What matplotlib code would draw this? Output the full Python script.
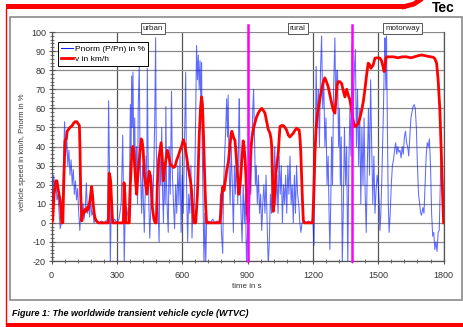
import matplotlib.pyplot as plt
from matplotlib.ticker import MultipleLocator
from matplotlib.patches import Rectangle
from matplotlib.lines import Line2D

plt.rcParams['font.family'] = ['Liberation Sans', 'DejaVu Sans']
plt.rcParams['axes.unicode_minus'] = False

# vehicle speed in km/h
speed_t = [0, 5, 12, 20, 25, 30, 36, 40, 44, 47, 52, 56, 62, 68, 72, 78, 85, 95, 100, 108,
           116, 122, 128, 131, 134, 139, 143, 148, 153, 158, 163, 168, 172, 177, 184, 188, 192, 196, 200, 206,
           215, 261, 265, 269, 272, 277, 281, 330, 333, 337, 342, 357, 362, 368, 373, 378, 382, 386, 391, 396,
           402, 406, 412, 416, 421, 426, 432, 438, 443, 448, 453, 458, 463, 470, 476, 481, 486, 492, 498, 503,
           508, 513, 518, 525, 532, 540, 547, 552, 560, 567, 575, 582, 590, 597, 605, 612, 620, 626, 632, 638,
           643, 648, 654, 662, 670, 678, 684, 689, 693, 698, 703, 708, 712, 773, 778, 782, 786, 792, 798, 805,
           812, 819, 825, 828, 833, 838, 842, 848, 854, 860, 866, 872, 877, 880, 884, 889, 894, 899, 903, 908,
           911, 916, 921, 926, 933, 940, 949, 957, 965, 972, 980, 988, 995, 1003, 1008, 1011, 1014, 1018, 1022, 1026,
           1030, 1036, 1041, 1045, 1049, 1057, 1064, 1072, 1079, 1087, 1094, 1102, 1110, 1118, 1125, 1131, 1137, 1141, 1144, 1148,
           1152, 1156, 1160, 1199, 1203, 1209, 1215, 1222, 1232, 1240, 1248, 1255, 1262, 1270, 1278, 1286, 1294, 1301, 1306, 1311,
           1316, 1324, 1332, 1340, 1347, 1351, 1355, 1362, 1370, 1376, 1382, 1388, 1393, 1400, 1408, 1416, 1424, 1432, 1439, 1446,
           1454, 1460, 1466, 1472, 1477, 1485, 1495, 1508, 1515, 1520, 1527, 1531, 1535, 1538, 1550, 1570, 1590, 1610, 1630, 1650,
           1660, 1680, 1699, 1720, 1740, 1752, 1760, 1768, 1775, 1783, 1790, 1796, 1800]
speed_v = [0, 1, 15, 22, 22, 18, 14, 12, 5, 0, 0, 20, 43, 44, 48, 49, 50, 51, 52, 53,
           53, 52, 51, 38, 15, 1, 4, 5, 7, 6, 8, 7, 9, 12, 19, 15, 9, 5, 2.6, 1,
           0, 0, 26, 24, 21, 8, 0, 0, 21, 15, 0, 0, 20, 35, 40, 38, 30, 22, 15, 24,
           32, 37, 44, 43, 38, 25, 20, 15, 22, 27, 25, 18, 8, 2, 0, 0, 20, 33, 38, 42,
           35, 22, 28, 33, 38, 34, 30, 30, 29, 29.5, 33, 35, 38, 40, 43.5, 41, 35, 30, 26, 22,
           17, 8, 0, 0, 15, 45, 60, 66, 62, 45, 25, 8, 0, 0, 5, 15, 19, 17, 22, 28,
           32, 40, 47, 48, 46, 44, 43.5, 35, 25, 15, 20, 30, 38, 43, 40, 33, 20, 5, 0, 18,
           30, 40, 45, 48.7, 52, 55, 57.5, 59, 60, 59, 57.5, 53, 49, 47, 44, 40, 25, 6, 10, 18,
           26, 32, 36.5, 44, 50.5, 51, 51, 50, 48.7, 46, 45, 46, 47, 48.5, 49.6, 49, 48.7, 44, 38, 25,
           12, 1.5, 0, 0, 12, 35, 50, 58, 64.5, 70, 74, 76, 74, 71.5, 67, 62.7, 59, 57.5, 65, 72,
           74, 74, 73, 69, 66, 68, 70, 67, 64.5, 60, 55.7, 52, 50.5, 51, 52, 55, 59, 64, 70, 77,
           83.7, 83, 81, 82, 82.8, 86.3, 86.5, 86.3, 85, 82.8, 79.3, 82, 86, 87, 87, 87, 86.5, 87, 87, 86.5,
           86.8, 87.5, 88, 87.5, 87, 86.8, 86, 83.7, 75, 59, 35, 15, 0]

# normalised power Pnorm in %
pnorm_t = [0, 5, 10, 15, 20, 25, 30, 35, 40, 45, 50, 55, 60, 65, 70, 75, 80, 85, 90, 95,
           100, 105, 110, 115, 120, 125, 130, 135, 140, 145, 150, 155, 160, 165, 170, 175, 180, 185, 190, 195,
           200, 210, 220, 230, 240, 250, 258, 262, 266, 270, 274, 280, 290, 300, 310, 320, 327, 331, 334, 338,
           345, 352, 358, 362, 365, 368, 371, 374, 378, 382, 386, 390, 395, 398, 403, 406, 410, 414, 418, 422,
           426, 430, 434, 437, 440, 443, 447, 451, 455, 460, 465, 470, 474, 478, 481, 485, 490, 494, 498, 502,
           506, 510, 514, 518, 522, 525, 528, 532, 536, 540, 545, 551, 555, 560, 565, 570, 575, 580, 585, 590,
           595, 600, 605, 610, 616, 620, 625, 630, 635, 640, 645, 650, 655, 660, 666, 670, 674, 678, 682, 686,
           689, 692, 696, 700, 704, 708, 712, 720, 730, 740, 750, 760, 770, 776, 780, 786, 790, 795, 800, 804,
           808, 811, 815, 820, 825, 830, 835, 840, 845, 850, 855, 860, 862, 866, 870, 875, 880, 885, 890, 895,
           900, 905, 910, 915, 920, 924, 928, 932, 936, 940, 945, 950, 955, 960, 965, 970, 975, 980, 985, 990,
           995, 1000, 1005, 1010, 1015, 1020, 1025, 1030, 1035, 1040, 1045, 1050, 1055, 1060, 1065, 1070, 1075, 1080, 1085, 1090,
           1095, 1100, 1105, 1110, 1115, 1120, 1125, 1130, 1135, 1140, 1145, 1150, 1160, 1170, 1180, 1190, 1200, 1205, 1210, 1215,
           1220, 1225, 1230, 1235, 1240, 1245, 1250, 1255, 1260, 1265, 1270, 1275, 1278, 1282, 1286, 1290, 1295, 1301, 1305, 1310,
           1313, 1318, 1322, 1326, 1330, 1335, 1340, 1345, 1350, 1355, 1360, 1365, 1370, 1375, 1380, 1384, 1390, 1395, 1400, 1405,
           1410, 1415, 1420, 1425, 1430, 1435, 1440, 1445, 1450, 1455, 1460, 1465, 1470, 1475, 1480, 1485, 1490, 1495, 1500, 1505,
           1508, 1512, 1518, 1524, 1528, 1531, 1535, 1538, 1542, 1546, 1550, 1555, 1560, 1565, 1570, 1575, 1580, 1585, 1590, 1595,
           1600, 1605, 1610, 1615, 1620, 1625, 1630, 1635, 1640, 1645, 1650, 1655, 1660, 1665, 1670, 1675, 1680, 1685, 1690, 1695,
           1699, 1705, 1710, 1715, 1720, 1725, 1730, 1735, 1740, 1745, 1750, 1755, 1760, 1765, 1770, 1775, 1780, 1785, 1790, 1795,
           1800]
pnorm_v = [0, 10, 25, 18, 22, 12, 15, 5, -3, 0, 2, 30, 53, 35, 45, 30, 38, 25, 33, 20,
           28, 15, 22, 12, 18, 5, -4, 8, 3, 10, 2, 8, 21, 5, 10, 3, 12, 4, 6, 0,
           2, 1, 0, 1, 0, 1, 2, 64, 30, -22, 10, 0, 2, 0, 2, 10, 46, 5, -22, 5,
           8, 2, 20, 62, 35, 77, 50, 79, 30, 55, 15, 40, 10, 60, 83, 40, 20, 5, 30, 10,
           -5, 15, 35, 20, 81, 40, 10, -8, 5, 25, 10, 30, 55, 97, 40, 20, 5, -10, 35, 20,
           50, 15, 0, 30, 10, 61, 20, 5, -5, 40, 15, 69, 25, 10, -3, 20, 5, 30, 10, 35,
           -5, 25, 5, 40, 79, 20, -10, 15, 5, 30, -8, 10, 5, 40, 93, 75, 88, 70, 85, 60,
           84, 40, 10, -22, 5, -22, 0, 1, 0, 2, 0, 1, 0, 15, -5, -16, 20, 35, 50, 65,
           45, 67, 30, 10, 40, 20, -5, 30, 15, 40, 10, 54, 65, 30, 5, -10, 20, 0, 15, -20,
           -5, 10, 25, 15, 40, 60, 70, 45, 20, 30, 10, 25, 5, 15, -4, 10, 20, 5, 25, 0,
           -22, -10, 15, 5, 30, 20, 40, 10, 25, 5, 35, 15, 30, 0, 20, 10, 25, 5, 30, 15,
           35, 10, 20, 0, 25, 5, 30, 15, 10, 0, -5, 0, 1, 0, 1, 0, 2, -12, 30, 82,
           50, 70, 40, 80, 98, 60, 75, 40, 55, 20, 35, 0, -14, 10, 45, 20, 70, 97, 60, 80,
           80, 40, 60, 20, 45, -22, 10, 50, 20, 40, -22, 30, 60, 35, 94, 50, 80, 91, 40, 70,
           30, 60, 10, 50, 20, 55, 15, -5, 30, 60, 25, 75, 40, 10, 35, 5, 17, 25, 20, 10,
           -4, 5, 30, 60, 85, 97, 70, 98, 50, 10, -5, 5, 20, 30, 33, 38, 42, 36, 40, 37,
           38, 34, 40, 36, 45, 48, 42, 40, 35, 45, 55, 58, 61, 62, 60, 50, 30, 15, 10, 5,
           4, 8, 5, 20, 35, 42, 40, 44, 30, 5, -7, -5, -14, -10, -15, -5, -4, 20, 45, 10,
           0]

phase_names = ['urban', 'rural', 'motorway']
phase_label_t = [466, 1131, 1611]
phase_limits = [900, 1380]

fig = plt.figure(figsize=(4.64, 3.27), dpi=100)
ax = fig.add_axes([0.111, 0.2018, 0.845, 0.7002])

ax.plot(pnorm_t, pnorm_v, color='#0a1eff', lw=0.75, alpha=0.65, label='Pnorm (P/Pn) in %', zorder=3)
ax.plot(speed_t, speed_v, color='#ff0000', lw=2.0, label='v in km/h', zorder=4)

for t in phase_limits:
    ax.axvline(t, ymin=0, ymax=1.03, color='#ff00ff', lw=1.8, clip_on=False, zorder=5)

for name, t in zip(phase_names, phase_label_t):
    ax.text(t, 101.8, name, ha='center', va='center', fontsize=5.8, color='#222222', zorder=6,
            bbox=dict(boxstyle='square,pad=0.25', fc='white', ec='#555555', lw=0.7), clip_on=False)

ax.set_xlim(0, 1800)
ax.set_ylim(-20, 100)
ax.set_xticks(range(0, 1801, 300))
ax.set_yticks(range(-20, 101, 10))
ax.xaxis.set_minor_locator(MultipleLocator(60))
ax.yaxis.set_minor_locator(MultipleLocator(2))
ax.grid(axis='y', color='#8a8a8a', lw=0.9, zorder=1)
ax.grid(axis='x', color='#555555', lw=0.9, zorder=1)

ax.spines['top'].set_visible(False)
for side in ['left', 'bottom', 'right']:
    ax.spines[side].set_color('#555555')
    ax.spines[side].set_linewidth(0.9)

ax.tick_params(axis='both', which='major', labelsize=6.5, labelcolor='#333333', color='#555555',
               direction='inout', length=4, width=0.8)
ax.tick_params(axis='both', which='minor', color='#555555', direction='inout', length=3, width=0.6)
ax.tick_params(axis='x', which='major', pad=5)
ax.tick_params(axis='y', which='major', pad=2)

leg = ax.legend(loc='upper left', bbox_to_anchor=(0.0166, 0.956), borderaxespad=0, fontsize=6,
                fancybox=False, edgecolor='black', framealpha=1, handlelength=1.4,
                borderpad=0.35, labelspacing=0.25, handletextpad=0.3)
leg.get_frame().set_linewidth(0.7)
leg.legend_handles[0].set_alpha(1)
leg.set_zorder(7)

fig.text(247 / 464, 1 - 287 / 327, 'time in s', ha='center', va='center', fontsize=5.8, color='#333333')
fig.text(23 / 464, 1 - 152 / 327, 'vehicle speed in km/h, Pnorm in %', ha='center', va='center',
         rotation=90, fontsize=5.5, color='#333333')

# page decoration around the figure
fig.patches.append(Rectangle((10 / 464, 1 - 300 / 327), 452 / 464, 283 / 327, transform=fig.transFigure,
                             fill=False, ec='#8a8a8a', lw=1.2))
fig.patches.append(Rectangle((6 / 464, 1 - 9.3 / 327), 400 / 464, 5.3 / 327, transform=fig.transFigure,
                             fc='#ff0000', ec='none'))
fig.patches.append(Rectangle((6 / 464, 0), 458 / 464, 4.5 / 327, transform=fig.transFigure,
                             fc='#ff0000', ec='none'))
fig.lines.append(Line2D([6.5 / 464, 6.5 / 464], [0, 1 - 9 / 327], transform=fig.transFigure,
                        color='#ff0000', lw=1))
fig.lines.append(Line2D([404 / 464, 414 / 464, 420 / 464], [1 - 6.6 / 327, 1 - 4 / 327, 1],
                        transform=fig.transFigure, color='#ff0000', lw=3.5))
fig.text(432 / 464, 1 - 0.5 / 327, 'Tec', fontsize=10, fontweight='bold', color='black', va='top')

fig.text(12 / 464, 1 - 314 / 327, 'Figure 1: The worldwide transient vehicle cycle (WTVC)',
         fontsize=6.5, fontweight='bold', fontstyle='italic', va='center')

fig.savefig('out.png', dpi=100)
